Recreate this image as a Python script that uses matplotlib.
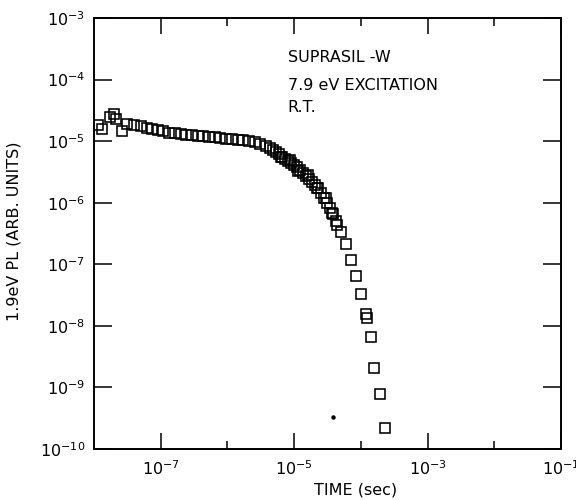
import matplotlib
matplotlib.use("Agg")
import matplotlib.pyplot as plt
from matplotlib.ticker import NullFormatter

# ---- data ----
time_early = [1.14e-8, 1.32e-8, 1.74e-8, 2.02e-8, 2.10e-8, 2.63e-8, 3.09e-8, 3.98e-8, 5.07e-8, 6.17e-8]
pl_early = [1.81e-5, 1.56e-5, 2.44e-5, 2.74e-5, 2.29e-5, 1.48e-5, 1.90e-5, 1.83e-5, 1.77e-5, 1.62e-5]

time_mid = [7.41e-8, 9.02e-8, 1.10e-7, 1.34e-7, 1.63e-7, 1.98e-7, 2.41e-7, 2.94e-7, 3.57e-7, 4.35e-7,
            5.30e-7, 6.45e-7, 7.85e-7, 9.55e-7, 1.16e-6, 1.42e-6, 1.73e-6, 2.10e-6, 2.56e-6, 3.11e-6, 3.79e-6]
pl_mid = [1.55e-5, 1.49e-5, 1.44e-5, 1.38e-5, 1.34e-5, 1.31e-5, 1.28e-5, 1.25e-5, 1.22e-5, 1.20e-5,
          1.17e-5, 1.15e-5, 1.13e-5, 1.10e-5, 1.08e-5, 1.05e-5, 1.03e-5, 1.00e-5, 9.64e-6, 9.01e-6, 8.24e-6]

time_dense = [4.35e-6, 4.83e-6, 5.35e-6, 5.94e-6, 6.59e-6, 7.30e-6, 8.10e-6, 8.99e-6, 9.97e-6, 1.105e-5,
              1.226e-5, 1.36e-5, 1.51e-5, 1.67e-5, 1.855e-5, 2.06e-5, 2.28e-5, 2.53e-5, 2.81e-5, 3.11e-5,
              3.45e-5, 3.83e-5, 4.25e-5,
              6.25e-6, 8.53e-6, 1.16e-5, 1.59e-5, 2.17e-5, 2.96e-5, 3.64e-5]
pl_dense = [7.76e-6, 7.19e-6, 6.68e-6, 6.13e-6, 5.62e-6, 5.18e-6, 4.77e-6, 4.43e-6, 4.08e-6, 3.76e-6,
            3.41e-6, 3.05e-6, 2.72e-6, 2.43e-6, 2.18e-6, 1.95e-6, 1.74e-6, 1.44e-6, 1.20e-6, 9.93e-7,
            8.24e-7, 6.58e-7, 5.07e-7,
            5.54e-6, 4.95e-6, 3.28e-6, 2.83e-6, 1.74e-6, 1.20e-6, 6.83e-7]

time_tail = [4.44e-5, 5.00e-5, 5.94e-5, 7.06e-5, 8.39e-5, 9.97e-5, 1.18e-4, 1.25e-4, 1.41e-4, 1.58e-4, 1.91e-4, 2.31e-4]
pl_tail = [4.36e-7, 3.40e-7, 2.14e-7, 1.18e-7, 6.49e-8, 3.31e-8, 1.55e-8, 1.33e-8, 6.70e-9, 2.10e-9, 7.87e-10, 2.18e-10]

time_dot = [3.77e-5]
pl_dot = [3.37e-10]

x_major = [1e-7, 1e-5, 1e-3, 1e-1]
x_major_labels = [r"$10^{-7}$", r"$10^{-5}$", r"$10^{-3}$", r"$10^{-1}$"]
x_minor = [1e-6, 1e-4, 1e-2]
y_major = [1e-10, 1e-9, 1e-8, 1e-7, 1e-6, 1e-5, 1e-4, 1e-3]
y_major_labels = [r"$10^{-10}$", r"$10^{-9}$", r"$10^{-8}$", r"$10^{-7}$",
                  r"$10^{-6}$", r"$10^{-5}$", r"$10^{-4}$", r"$10^{-3}$"]

annotation_lines = ["SUPRASIL -W", "7.9 eV EXCITATION", "R.T."]

# ---- figure ----
plt.rcParams["font.family"] = ["DejaVu Sans"]
plt.rcParams["mathtext.fontset"] = "dejavusans"

fig = plt.figure(figsize=(5.76, 5.0), dpi=100)
ax = fig.add_axes([0.1632, 0.102, 0.8108, 0.862])

mk = dict(linestyle="none", marker="s", markersize=6.6, markerfacecolor="none",
          markeredgecolor="black", markeredgewidth=1.15)
ax.plot(time_early, pl_early, **mk)
ax.plot(time_mid, pl_mid, **mk)
ax.plot(time_dense, pl_dense, **mk)
ax.plot(time_tail, pl_tail, **mk)
ax.plot(time_dot, pl_dot, linestyle="none", marker="o", markersize=2.2, color="black")

ax.set_xscale("log")
ax.set_yscale("log")
ax.set_xlim(1e-8, 1e-1)
ax.set_ylim(1e-10, 1e-3)

ax.set_xticks(x_major)
ax.set_xticklabels(x_major_labels)
ax.set_xticks(x_minor, minor=True)
ax.xaxis.set_minor_formatter(NullFormatter())
ax.set_yticks(y_major)
ax.set_yticklabels(y_major_labels)
ax.set_yticks([], minor=True)
ax.yaxis.set_minor_formatter(NullFormatter())

ax.tick_params(axis="x", which="major", direction="in", top=True, length=11.5, width=1.1,
               labelsize=11.5, pad=7.5)
ax.tick_params(axis="x", which="minor", direction="in", top=True, length=6.0, width=1.1)
ax.tick_params(axis="y", which="major", direction="in", right=True, length=13, width=1.1,
               labelsize=11.5, pad=6.5)

for sp in ax.spines.values():
    sp.set_linewidth(1.4)

ax.set_xlabel("TIME (sec)", fontsize=11.5)
ax.xaxis.set_label_coords(0.559, -0.078)
ax.set_ylabel("1.9eV PL (ARB. UNITS)", fontsize=11.5)
ax.yaxis.set_label_coords(-0.155, 0.505)

ann_y = [0.898, 0.833, 0.782]
for txt, yy in zip(annotation_lines, ann_y):
    ax.text(0.415, yy, txt, transform=ax.transAxes, fontsize=11.5, ha="left", va="baseline")

fig.savefig("out.png", dpi=100)
